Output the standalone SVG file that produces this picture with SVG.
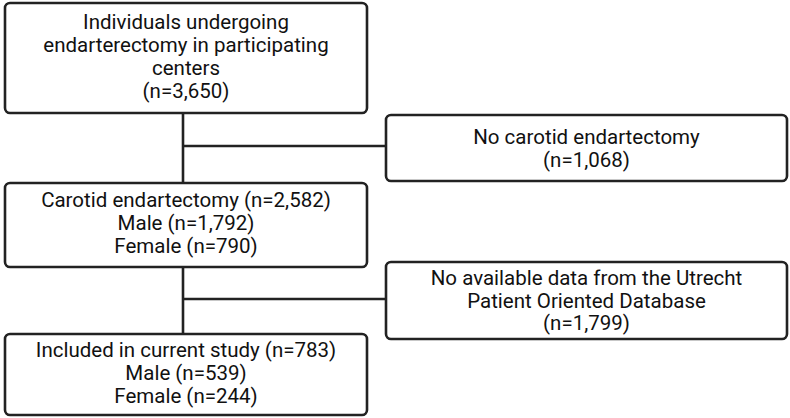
<svg xmlns="http://www.w3.org/2000/svg" width="790" height="418" viewBox="0 0 790 418">
<style>
.box{fill:#fff;stroke:#222;stroke-width:2.6}
.ln{stroke:#222;stroke-width:2.6;fill:none}
text{font-family:Roboto,"Liberation Sans",sans-serif;font-size:20.5px;fill:#111;text-anchor:middle}
</style>
<rect width="790" height="418" fill="#fff"/>
<g id="connectors">
<path class="ln" d="M183 113V183M183 146H386"/>
<path class="ln" d="M183 267V334M183 299H386"/>
</g>
<g id="n1">
<rect class="box" x="5" y="3" width="362" height="110" rx="5"/>
<text x="186" y="29">Individuals undergoing</text>
<text x="186" y="52">endarterectomy in participating</text>
<text x="186" y="75">centers</text>
<text x="186" y="98">(n=3,650)</text>
</g>
<g id="n2">
<rect class="box" x="386" y="115" width="401" height="66" rx="5"/>
<text x="586.5" y="144">No carotid endartectomy</text>
<text x="586.5" y="167">(n=1,068)</text>
</g>
<g id="n3">
<rect class="box" x="5" y="183" width="362" height="84" rx="5"/>
<text x="186" y="207">Carotid endartectomy (n=2,582)</text>
<text x="186" y="230">Male (n=1,792)</text>
<text x="186" y="253">Female (n=790)</text>
</g>
<g id="n4">
<rect class="box" x="386" y="262" width="401" height="77" rx="5"/>
<text x="586.5" y="285">No available data from the Utrecht</text>
<text x="586.5" y="307.5">Patient Oriented Database</text>
<text x="586.5" y="330">(n=1,799)</text>
</g>
<g id="n5">
<rect class="box" x="5" y="334" width="362" height="81" rx="5"/>
<text x="186" y="357">Included in current study (n=783)</text>
<text x="186" y="380">Male (n=539)</text>
<text x="186" y="403">Female (n=244)</text>
</g>
</svg>
